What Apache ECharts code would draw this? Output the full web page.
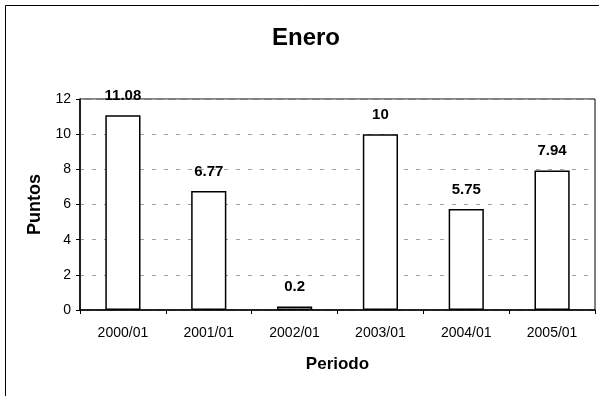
<!DOCTYPE html>
<html>
<head>
<meta charset="utf-8">
<script src="https://cdn.jsdelivr.net/npm/echarts@6/dist/echarts.min.js"></script>
<style>
  html, body { margin: 0; padding: 0; background: #fff; }
  #chart { width: 599px; height: 396px; }
</style>
</head>
<body>
<div id="chart"></div>
<script>
// Monthly points for January of each year
const periods = ['2000/01', '2001/01', '2002/01', '2003/01', '2004/01', '2005/01'];
const points = [11.08, 6.77, 0.2, 10, 5.75, 7.94];
const yTicks = [0, 2, 4, 6, 8, 10, 12];

const FONT = '"Liberation Sans", Arial, sans-serif';

const chart = echarts.init(document.getElementById('chart'), null, { renderer: 'canvas' });

chart.setOption({
  animation: false,
  backgroundColor: '#ffffff',
  textStyle: { fontFamily: FONT },
  graphic: [
    // Outer frame (left and top edges visible)
    {
      type: 'rect',
      shape: { x: 5.5, y: 5.5, width: 800, height: 600 },
      style: { fill: 'none', stroke: '#000', lineWidth: 1 },
      z: 0
    },
    {
      type: 'text',
      x: 306, y: 38,
      style: {
        text: 'Enero',
        font: 'bold 24px ' + FONT,
        fill: '#000',
        textAlign: 'center',
        textVerticalAlign: 'middle'
      }
    }
  ],
  grid: {
    left: 80, right: 4, top: 99, bottom: 86,
    show: true,
    borderColor: '#000',
    borderWidth: 1,
    backgroundColor: 'transparent'
  },
  xAxis: {
    type: 'category',
    data: periods,
    name: 'Periodo',
    nameLocation: 'middle',
    nameGap: 46,
    nameTextStyle: { fontFamily: FONT, fontWeight: 'bold', fontSize: 17, color: '#000' },
    axisLine: { lineStyle: { color: '#000', width: 1.5 } },
    axisTick: { show: true, alignWithLabel: false, length: 4, lineStyle: { color: '#000' } },
    axisLabel: { fontFamily: FONT, fontSize: 14, color: '#000', margin: 16 },
    splitLine: { show: false }
  },
  yAxis: {
    type: 'value',
    min: yTicks[0],
    max: yTicks[yTicks.length - 1],
    interval: yTicks[1] - yTicks[0],
    name: 'Puntos',
    nameLocation: 'middle',
    nameGap: 36,
    nameTextStyle: { fontFamily: FONT, fontWeight: 'bold', fontSize: 18, color: '#000' },
    axisLine: { show: true, lineStyle: { color: '#000', width: 1.5 } },
    axisTick: { show: true, length: 4, lineStyle: { color: '#000' } },
    axisLabel: { fontFamily: FONT, fontSize: 14, color: '#000', margin: 9 },
    splitLine: { show: true, lineStyle: { color: '#a0a0a0', width: 1, type: [4, 8] } }
  },
  series: [{
    type: 'bar',
    data: points,
    barWidth: '41%',
    itemStyle: { color: '#ffffff', borderColor: '#000', borderWidth: 1.5 },
    label: {
      show: true,
      position: 'top',
      distance: 12,
      fontFamily: FONT,
      fontWeight: 'bold',
      fontSize: 15,
      color: '#000'
    }
  }]
});
</script>
</body>
</html>
